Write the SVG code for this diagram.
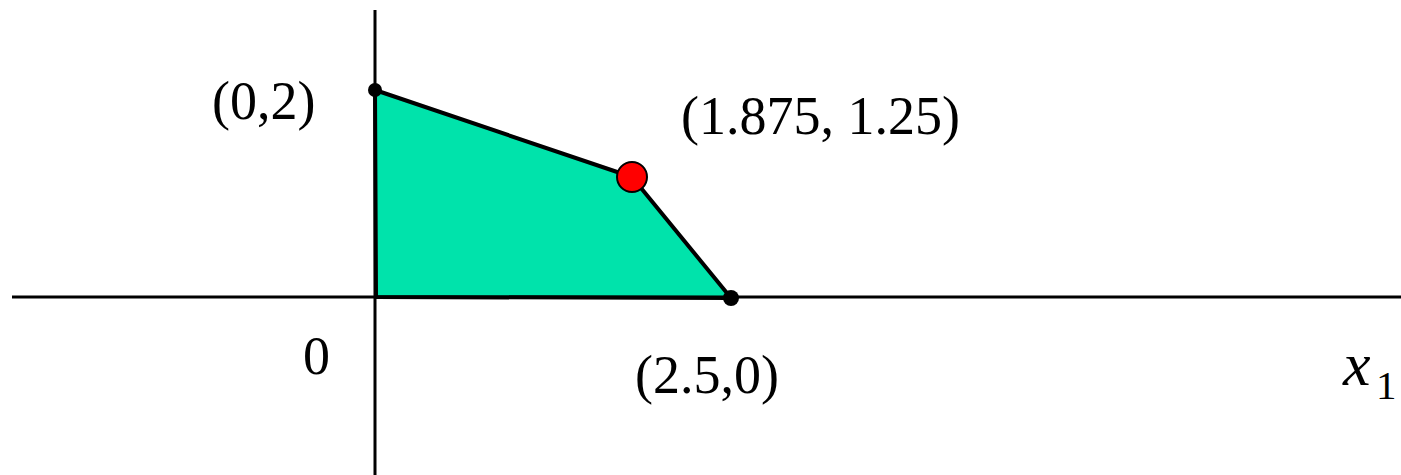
<svg xmlns="http://www.w3.org/2000/svg" width="1401" height="475" viewBox="0 0 1401 475">
<style>
.t{font-family:"Liberation Serif","Times New Roman",serif;font-size:54px;fill:#000}
.xv{font-style:italic;font-size:62px}
.sub{font-size:41px}
.ax{stroke:#000;stroke-width:3;fill:none}
.dot{fill:#000}
</style>
<rect width="1401" height="475" fill="#fff"/>
<g id="region">
<polygon points="375,90 632,177 731,298 376,297" fill="#00E3AB" stroke="#000" stroke-width="4" stroke-linejoin="round"/>
</g>
<g id="connectors">
<line class="ax" x1="375" y1="10" x2="375" y2="475"/>
<line class="ax" x1="12" y1="297" x2="1401" y2="297"/>
</g>
<g id="p02"><circle class="dot" cx="375" cy="90" r="7"/><text class="t" x="212" y="119">(0,2)</text></g>
<g id="p25"><circle class="dot" cx="731" cy="298" r="8"/><text class="t" x="635" y="393">(2.5,0)</text></g>
<g id="popt"><circle cx="632" cy="177" r="15" fill="#f00" stroke="#000" stroke-width="2"/><text class="t" x="681" y="134">(1.875, 1.25)</text></g>
<g id="origin"><text class="t" x="303" y="374">0</text></g>
<g id="xlabel"><text class="t xv" x="1343" y="385">x</text><text class="t sub" x="1376" y="399">1</text></g>
</svg>
